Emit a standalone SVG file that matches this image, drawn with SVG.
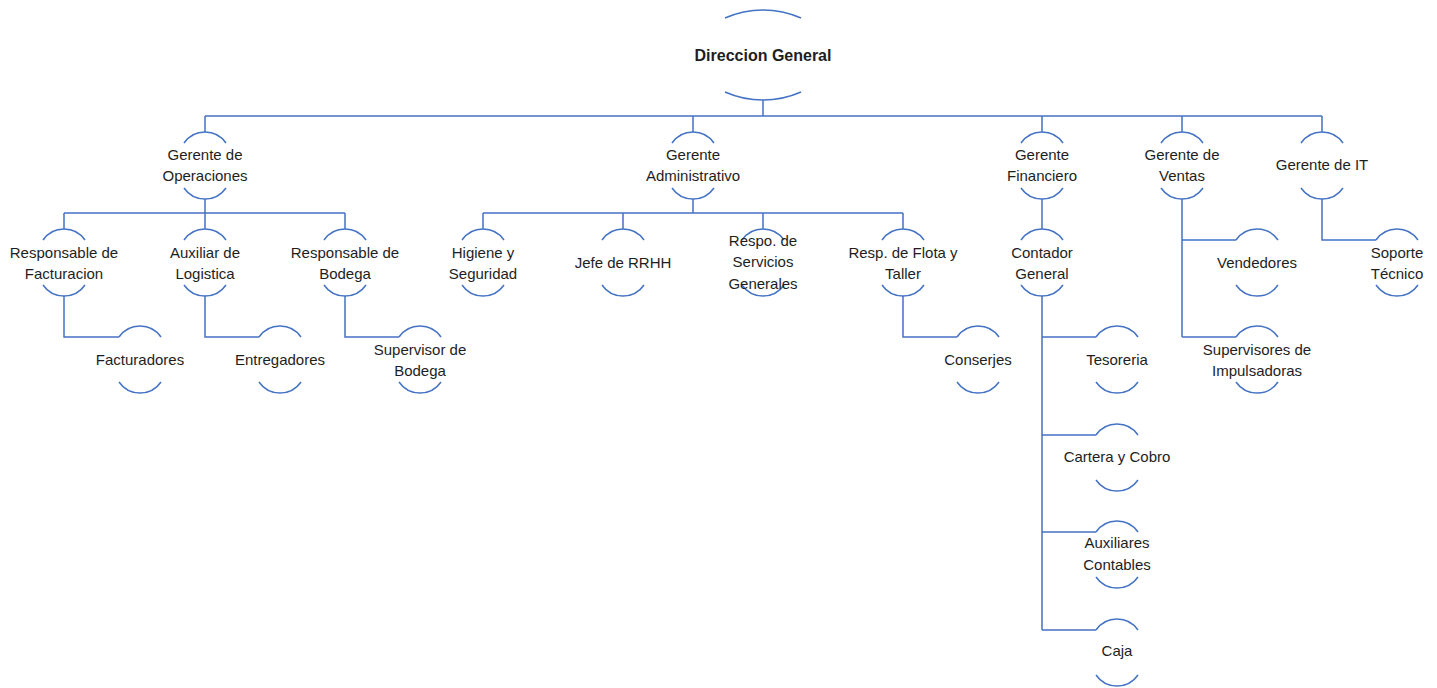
<svg xmlns="http://www.w3.org/2000/svg" xmlns:xlink="http://www.w3.org/1999/xlink" width="1437" height="688" viewBox="0 0 1437 688">
<style>
.ln{fill:none;stroke:#4472C4;stroke-width:1.5}
.t{font-family:"Liberation Sans",Arial,sans-serif;font-size:15px;fill:#1e1e1e;text-anchor:middle}
.tb{font-family:"Liberation Sans",Arial,sans-serif;font-size:16px;font-weight:bold;fill:#1e1e1e;text-anchor:middle}
</style>
<defs>
<g id="arcs">
<path class="ln" d="M-21 11 A25.5 25.5 0 0 1 21 11"/>
<path class="ln" d="M-21 56 A25.5 25.5 0 0 0 21 56"/>
</g>
</defs>
<rect width="1437" height="688" fill="#ffffff"/>
<g id="connectors" class="ln">
<path d="M763 100 V116 M205 116 H1322 M205 116 V132 M693 116 V132 M1042 116 V132 M1182 116 V132 M1322 116 V132"/>
<path d="M205 199 V213 M64 213 H345 M64 213 V229 M205 213 V229 M345 213 V229"/>
<path d="M693 199 V213 M483 213 H903 M483 213 V229 M623 213 V229 M763 213 V229 M903 213 V229"/>
<path d="M1042 199 V229"/>
<path d="M1182 199 V337 M1182 240 H1236 M1182 337 H1236"/>
<path d="M1322 199 V240 H1376"/>
<path d="M64 296 V337 H119 M205 296 V337 H259 M345 296 V337 H399 M903 296 V337 H957"/>
<path d="M1042 296 V630 M1042 337 H1096 M1042 435 H1096 M1042 532 H1096 M1042 630 H1096"/>
</g>
<g id="n-direccion">
<path class="ln" d="M725 18 A94 94 0 0 1 801 18"/>
<path class="ln" d="M725 92 A94 94 0 0 0 801 92"/>
<text class="tb" x="763" y="61">Direccion General</text>
</g>
<g id="n-operaciones"><use xlink:href="#arcs" x="205" y="132"/><text class="t" x="205" y="160">Gerente de</text><text class="t" x="205" y="181">Operaciones</text></g>
<g id="n-administrativo"><use xlink:href="#arcs" x="693" y="132"/><text class="t" x="693" y="160">Gerente</text><text class="t" x="693" y="181">Administrativo</text></g>
<g id="n-financiero"><use xlink:href="#arcs" x="1042" y="132"/><text class="t" x="1042" y="160">Gerente</text><text class="t" x="1042" y="181">Financiero</text></g>
<g id="n-ventas"><use xlink:href="#arcs" x="1182" y="132"/><text class="t" x="1182" y="160">Gerente de</text><text class="t" x="1182" y="181">Ventas</text></g>
<g id="n-it"><use xlink:href="#arcs" x="1322" y="132"/><text class="t" x="1322" y="170">Gerente de IT</text></g>
<g id="n-facturacion"><use xlink:href="#arcs" x="64" y="229"/><text class="t" x="64" y="258">Responsable de</text><text class="t" x="64" y="279">Facturacion</text></g>
<g id="n-logistica"><use xlink:href="#arcs" x="205" y="229"/><text class="t" x="205" y="258">Auxiliar de</text><text class="t" x="205" y="279">Logistica</text></g>
<g id="n-bodega"><use xlink:href="#arcs" x="345" y="229"/><text class="t" x="345" y="258">Responsable de</text><text class="t" x="345" y="279">Bodega</text></g>
<g id="n-higiene"><use xlink:href="#arcs" x="483" y="229"/><text class="t" x="483" y="258">Higiene y</text><text class="t" x="483" y="279">Seguridad</text></g>
<g id="n-rrhh"><use xlink:href="#arcs" x="623" y="229"/><text class="t" x="623" y="268">Jefe de RRHH</text></g>
<g id="n-servicios"><use xlink:href="#arcs" x="763" y="229"/><text class="t" x="763" y="246">Respo. de</text><text class="t" x="763" y="267">Servicios</text><text class="t" x="763" y="289">Generales</text></g>
<g id="n-flota"><use xlink:href="#arcs" x="903" y="229"/><text class="t" x="903" y="258">Resp. de Flota y</text><text class="t" x="903" y="279">Taller</text></g>
<g id="n-contador"><use xlink:href="#arcs" x="1042" y="229"/><text class="t" x="1042" y="258">Contador</text><text class="t" x="1042" y="279">General</text></g>
<g id="n-vendedores"><use xlink:href="#arcs" x="1257" y="229"/><text class="t" x="1257" y="268">Vendedores</text></g>
<g id="n-soporte"><use xlink:href="#arcs" x="1397" y="229"/><text class="t" x="1397" y="258">Soporte</text><text class="t" x="1397" y="279">Técnico</text></g>
<g id="n-facturadores"><use xlink:href="#arcs" x="140" y="326"/><text class="t" x="140" y="365">Facturadores</text></g>
<g id="n-entregadores"><use xlink:href="#arcs" x="280" y="326"/><text class="t" x="280" y="365">Entregadores</text></g>
<g id="n-supervisor"><use xlink:href="#arcs" x="420" y="326"/><text class="t" x="420" y="355">Supervisor de</text><text class="t" x="420" y="376">Bodega</text></g>
<g id="n-conserjes"><use xlink:href="#arcs" x="978" y="326"/><text class="t" x="978" y="365">Conserjes</text></g>
<g id="n-tesoreria"><use xlink:href="#arcs" x="1117" y="326"/><text class="t" x="1117" y="365">Tesoreria</text></g>
<g id="n-impulsadoras"><use xlink:href="#arcs" x="1257" y="326"/><text class="t" x="1257" y="355">Supervisores de</text><text class="t" x="1257" y="376">Impulsadoras</text></g>
<g id="n-cartera"><use xlink:href="#arcs" x="1117" y="424"/><text class="t" x="1117" y="462">Cartera y Cobro</text></g>
<g id="n-auxiliares"><use xlink:href="#arcs" x="1117" y="521"/><text class="t" x="1117" y="548">Auxiliares</text><text class="t" x="1117" y="570">Contables</text></g>
<g id="n-caja"><use xlink:href="#arcs" x="1117" y="619"/><text class="t" x="1117" y="656">Caja</text></g>
</svg>
